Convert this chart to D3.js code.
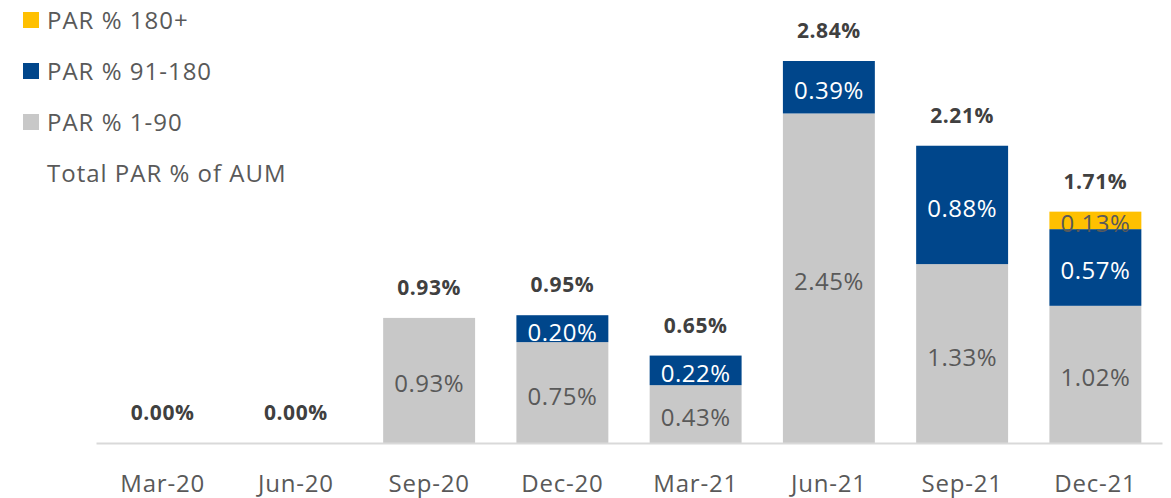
<!DOCTYPE html>
<html>
<head>
<meta charset="utf-8">
<script src="https://cdn.jsdelivr.net/npm/d3@7"></script>
<style>
  body { margin: 0; background: #fff; }
  svg { display: block; font-family: 'Open Sans', 'Noto Sans', sans-serif; }
</style>
</head>
<body>
<script>
const quarters = ['Mar-20', 'Jun-20', 'Sep-20', 'Dec-20', 'Mar-21', 'Jun-21', 'Sep-21', 'Dec-21'];
const par1to90 = [0, 0, 0.93, 0.75, 0.43, 2.45, 1.33, 1.02];
const par91to180 = [0, 0, 0, 0.20, 0.22, 0.39, 0.88, 0.57];
const par180plus = [0, 0, 0, 0, 0, 0, 0, 0.13];
const totals = [0.00, 0.00, 0.93, 0.95, 0.65, 2.84, 2.21, 1.71];

const width = 1171;
const height = 498;
const baseline = 443;

const seriesList = [
  { key: 'p1', name: 'PAR % 1-90', values: par1to90, color: '#c8c8c8', text: '#595959' },
  { key: 'p2', name: 'PAR % 91-180', values: par91to180, color: '#00468b', text: '#ffffff' },
  { key: 'p3', name: 'PAR % 180+', values: par180plus, color: '#ffc000', text: '#595959' },
];

const rows = quarters.map((q, i) => {
  const r = { q };
  seriesList.forEach(s => { r[s.key] = s.values[i]; });
  return r;
});

const stack = d3.stack().keys(seriesList.map(s => s.key))(rows);

const svg = d3.select('body').append('svg')
  .attr('width', width)
  .attr('height', height);

const x = d3.scaleBand(quarters, [96, 1162]).paddingInner(0.31).paddingOuter(0.155);
const y = d3.scaleLinear([0, 2.84], [baseline, 61]);

stack.forEach((layer, li) => {
  const s = seriesList[li];
  const g = svg.append('g').attr('class', 'layer');
  g.selectAll('rect')
    .data(layer)
    .enter()
    .append('rect')
    .attr('x', d => x(d.data.q))
    .attr('width', x.bandwidth())
    .attr('y', d => y(d[1]))
    .attr('height', d => y(d[0]) - y(d[1]))
    .attr('fill', s.color);
});

// segment labels
stack.forEach((layer, li) => {
  const s = seriesList[li];
  svg.append('g')
    .selectAll('text')
    .data(layer.filter(v => v[1] - v[0] > 0))
    .enter()
    .append('text')
    .attr('x', d => x(d.data.q) + x.bandwidth() / 2)
    .attr('y', d => (y(d[0]) + y(d[1])) / 2)
    .attr('dy', '0.5em')
    .attr('text-anchor', 'middle')
    .attr('font-size', 24)
    .attr('letter-spacing', 0.5)
    .attr('fill', s.text)
    .text(d => (d[1] - d[0]).toFixed(2) + '%');
});

// totals
svg.append('g')
  .selectAll('text')
  .data(totals)
  .enter()
  .append('text')
  .attr('x', (d, i) => x(quarters[i]) + x.bandwidth() / 2)
  .attr('y', (d, i) => y(d3.sum(seriesList, s => s.values[i])) - 23)
  .attr('text-anchor', 'middle')
  .attr('font-size', 21)
  .attr('letter-spacing', 0.6)
  .attr('font-weight', 'bold')
  .attr('fill', '#404040')
  .text(d => d.toFixed(2) + '%');

// x axis
const xAxis = d3.axisBottom(x).tickSize(0).tickPadding(32);
const gx = svg.append('g')
  .attr('transform', `translate(0, ${baseline})`)
  .call(xAxis);
gx.select('.domain').attr('stroke', '#d9d9d9').attr('stroke-width', 2);
gx.selectAll('text')
  .attr('font-size', 24)
  .attr('letter-spacing', 0.8)
  .attr('font-family', "'Open Sans', 'Noto Sans', sans-serif")
  .attr('fill', '#595959');

// legend
const legendItems = [
  { name: 'PAR % 180+', color: '#ffc000' },
  { name: 'PAR % 91-180', color: '#00468b' },
  { name: 'PAR % 1-90', color: '#c8c8c8' },
  { name: 'Total PAR % of AUM', color: null },
];
const lg = svg.append('g');
legendItems.forEach((d, i) => {
  const cy = 20 + i * 51;
  if (d.color) {
    lg.append('rect')
      .attr('x', 23).attr('y', cy - 8)
      .attr('width', 16).attr('height', 16)
      .attr('fill', d.color);
  }
  lg.append('text')
    .attr('x', 47).attr('y', cy)
    .attr('dy', '0.36em')
    .attr('font-size', 24)
    .attr('letter-spacing', 1)
    .attr('fill', '#595959')
    .text(d.name);
});
</script>
</body>
</html>
